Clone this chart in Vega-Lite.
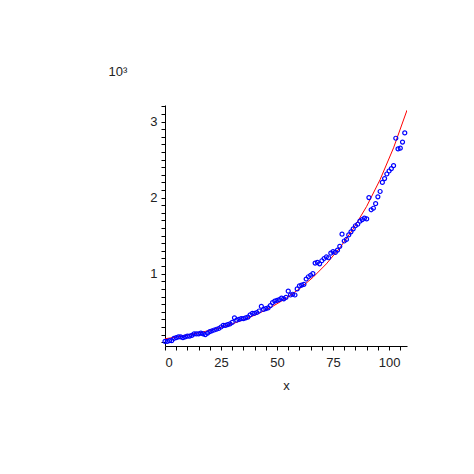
{
  "$schema": "https://vega.github.io/schema/vega-lite/v6.json",
  "width": 242,
  "height": 241,
  "autosize": {"type": "none"},
  "padding": {"left": 165, "top": 105, "right": 67, "bottom": 128},
  "background": "white",
  "config": {
    "view": {"stroke": null},
    "axis": {
      "labelFont": "Liberation Sans",
      "titleFont": "Liberation Sans",
      "labelFontSize": 13,
      "titleFontSize": 13,
      "labelColor": "#222",
      "titleColor": "#222",
      "titleFontWeight": "normal",
      "domainColor": "#000",
      "tickColor": "#000",
      "domainWidth": 1,
      "tickWidth": 1,
      "grid": false
    }
  },
  "datasets": {
    "curve": [
      {"x": 0, "y": 0.145}, {"x": 6, "y": 0.172}, {"x": 12, "y": 0.204}, {"x": 18, "y": 0.242},
      {"x": 24, "y": 0.287}, {"x": 30, "y": 0.341}, {"x": 36, "y": 0.405}, {"x": 42, "y": 0.480},
      {"x": 48, "y": 0.570}, {"x": 54, "y": 0.676}, {"x": 60, "y": 0.802}, {"x": 66, "y": 0.951},
      {"x": 72, "y": 1.129}, {"x": 78, "y": 1.339}, {"x": 84, "y": 1.589}, {"x": 90, "y": 1.885},
      {"x": 96, "y": 2.237}, {"x": 102, "y": 2.654}, {"x": 108, "y": 3.149}
    ],
    "points": [
      {"x": 0, "y": 0.11}, {"x": 1, "y": 0.11}, {"x": 2, "y": 0.12}, {"x": 3, "y": 0.12}, {"x": 4, "y": 0.15},
      {"x": 5, "y": 0.16}, {"x": 6, "y": 0.17}, {"x": 7, "y": 0.17}, {"x": 8, "y": 0.16}, {"x": 9, "y": 0.17},
      {"x": 10, "y": 0.18}, {"x": 11, "y": 0.18}, {"x": 12, "y": 0.19}, {"x": 13, "y": 0.21}, {"x": 14, "y": 0.21},
      {"x": 15, "y": 0.21}, {"x": 16, "y": 0.22}, {"x": 17, "y": 0.21}, {"x": 18, "y": 0.20}, {"x": 19, "y": 0.22},
      {"x": 20, "y": 0.24}, {"x": 21, "y": 0.25}, {"x": 22, "y": 0.26}, {"x": 23, "y": 0.27}, {"x": 24, "y": 0.28},
      {"x": 25, "y": 0.30}, {"x": 26, "y": 0.32}, {"x": 27, "y": 0.32}, {"x": 28, "y": 0.33}, {"x": 29, "y": 0.34},
      {"x": 30, "y": 0.36}, {"x": 31, "y": 0.42}, {"x": 32, "y": 0.39}, {"x": 33, "y": 0.40}, {"x": 34, "y": 0.41},
      {"x": 35, "y": 0.41}, {"x": 36, "y": 0.42}, {"x": 37, "y": 0.43}, {"x": 38, "y": 0.46}, {"x": 39, "y": 0.48},
      {"x": 40, "y": 0.48}, {"x": 41, "y": 0.49}, {"x": 42, "y": 0.51}, {"x": 43, "y": 0.57}, {"x": 44, "y": 0.53},
      {"x": 45, "y": 0.54}, {"x": 46, "y": 0.55}, {"x": 47, "y": 0.58}, {"x": 48, "y": 0.62}, {"x": 49, "y": 0.64},
      {"x": 50, "y": 0.65}, {"x": 51, "y": 0.66}, {"x": 52, "y": 0.68}, {"x": 53, "y": 0.67}, {"x": 54, "y": 0.69},
      {"x": 55, "y": 0.77}, {"x": 56, "y": 0.72}, {"x": 57, "y": 0.73}, {"x": 58, "y": 0.72}, {"x": 59, "y": 0.80},
      {"x": 60, "y": 0.84}, {"x": 61, "y": 0.85}, {"x": 62, "y": 0.86}, {"x": 63, "y": 0.93}, {"x": 64, "y": 0.96},
      {"x": 65, "y": 0.98}, {"x": 66, "y": 1.00}, {"x": 67, "y": 1.14}, {"x": 68, "y": 1.15}, {"x": 69, "y": 1.13},
      {"x": 70, "y": 1.17}, {"x": 71, "y": 1.20}, {"x": 72, "y": 1.22}, {"x": 73, "y": 1.21}, {"x": 74, "y": 1.27},
      {"x": 75, "y": 1.29}, {"x": 76, "y": 1.28}, {"x": 77, "y": 1.31}, {"x": 78, "y": 1.36}, {"x": 79, "y": 1.52},
      {"x": 80, "y": 1.43}, {"x": 81, "y": 1.45}, {"x": 82, "y": 1.51}, {"x": 83, "y": 1.55}, {"x": 84, "y": 1.59},
      {"x": 85, "y": 1.63}, {"x": 86, "y": 1.65}, {"x": 87, "y": 1.69}, {"x": 88, "y": 1.71}, {"x": 89, "y": 1.73},
      {"x": 90, "y": 1.72}, {"x": 91, "y": 2.00}, {"x": 92, "y": 1.84}, {"x": 93, "y": 1.86}, {"x": 94, "y": 1.92},
      {"x": 95, "y": 2.01}, {"x": 96, "y": 2.08}, {"x": 97, "y": 2.20}, {"x": 98, "y": 2.25}, {"x": 99, "y": 2.31},
      {"x": 100, "y": 2.35}, {"x": 101, "y": 2.38}, {"x": 102, "y": 2.42}, {"x": 103, "y": 2.78}, {"x": 104, "y": 2.64},
      {"x": 105, "y": 2.65}, {"x": 106, "y": 2.73}, {"x": 107, "y": 2.85}
    ]
  },
  "resolve": {"axis": {"x": "independent", "y": "independent"}},
  "layer": [
    {
      "data": {"name": "curve"},
      "mark": {"type": "line", "color": "#ff0000", "strokeWidth": 1, "clip": true},
      "encoding": {
        "x": {
          "field": "x", "type": "quantitative",
          "scale": {"domain": [0, 108], "nice": false, "zero": false},
          "axis": {"orient": "bottom", "values": [0, 25, 50, 75, 100], "title": "x", "tickSize": 4, "labelPadding": 6, "titlePadding": 10, "format": "d"}
        },
        "y": {
          "field": "y", "type": "quantitative",
          "scale": {"domain": [0.05, 3.217], "nice": false, "zero": false},
          "axis": {"orient": "left", "values": [1, 2, 3], "format": "d", "tickSize": 4, "labelPadding": 4,
                   "title": "10³", "titleAngle": 0, "titleAlign": "left", "titleBaseline": "alphabetic",
                   "titleX": -57, "titleY": -30}
        }
      }
    },
    {
      "data": {"name": "points"},
      "mark": {"type": "point", "shape": "circle", "filled": false, "color": "#0000ff", "size": 16, "strokeWidth": 1.2, "opacity": 1},
      "encoding": {
        "x": {
          "field": "x", "type": "quantitative",
          "axis": {"orient": "bottom", "values": [5, 10, 15, 20, 30, 35, 40, 45, 55, 60, 65, 70, 80, 85, 90, 95, 105], "labels": false, "title": null, "tickSize": 4, "domain": false}
        },
        "y": {
          "field": "y", "type": "quantitative",
          "axis": {"orient": "left", "values": [0.1, 0.2, 0.3, 0.4, 0.5, 0.6, 0.7, 0.8, 0.9, 1.1, 1.2, 1.3, 1.4, 1.5, 1.6, 1.7, 1.8, 1.9, 2.1, 2.2, 2.3, 2.4, 2.5, 2.6, 2.7, 2.8, 2.9, 3.1, 3.2], "labels": false, "title": null, "tickSize": 4, "domain": false}
        }
      }
    }
  ]
}
